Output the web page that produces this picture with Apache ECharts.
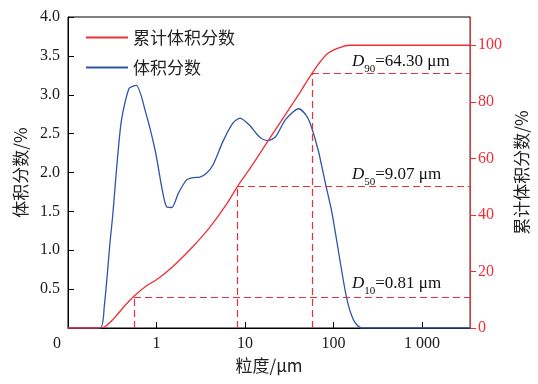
<!DOCTYPE html>
<html><head><meta charset="utf-8">
<script src="https://cdn.jsdelivr.net/npm/echarts@6/dist/echarts.min.js"></script>
<style>html,body{margin:0;padding:0;background:#fff}#c{width:538px;height:384px}</style>
</head><body><div id="c"></div>
<script>
// particle size (μm) and volume fraction (%) — blue curve, left axis
const blueX = [0.1, 0.23, 0.257, 0.300, 0.318, 0.395, 0.489, 0.590, 0.752, 0.972, 1.152, 1.31, 1.49, 1.77, 2.19, 2.60, 3.09, 3.67, 4.36, 5.64, 7.29, 8.79, 11.2, 14.5, 17.9, 22.2, 28.7, 40.5, 50.2, 57.0, 67.8, 80.4, 95.5, 106, 140, 168, 207, 3500];
const blueY = [0, 0, 0.28, 1.13, 1.41, 2.61, 3.08, 3.12, 2.78, 2.27, 1.80, 1.555, 1.55, 1.735, 1.905, 1.935, 1.94, 1.99, 2.10, 2.40, 2.635, 2.70, 2.61, 2.46, 2.41, 2.46, 2.68, 2.82, 2.72, 2.57, 2.27, 1.88, 1.50, 1.20, 0.40, 0.107, 0, 0];
// cumulative volume fraction (%) — red curve, right axis
const redX = [0.1, 0.199, 0.257, 0.333, 0.431, 0.556, 0.752, 0.972, 1.20, 1.69, 2.60, 4.00, 6.14, 8.28, 11.2, 18.7, 40.5, 57.0, 83.9, 118, 153, 3500];
const redY = [0, 0, 0.35, 3.5, 7.6, 11.2, 14.7, 16.8, 18.9, 23.0, 28.9, 35.6, 43.6, 50.2, 56.1, 66.7, 82.6, 90.0, 96.8, 99.2, 100, 100];
// characteristic sizes (as drawn) and cumulative levels
const dX = [0.556, 8.14, 57.0];
const dY = [11, 50, 90];
const dSub = ['10', '50', '90'];
const dVal = ['0.81', '9.07', '64.30'];
const xTickLabels = {0.1: '0', 1: '1', 10: '10', 100: '100', 1000: '1 000'};
const leftTicks = [0.5, 1.0, 1.5, 2.0, 2.5, 3.0, 3.5, 4.0];
const rightTicks = [0, 20, 40, 60, 80, 100];
const seriesNames = ['累计体积分数', '体积分数'];

const RED = '#ee2f37', BLUE = '#2d55a8';
const SERIF = '"Liberation Serif","Times New Roman",serif';
const CJK = '"Noto Sans CJK SC","Noto Sans",sans-serif';
const XMAX = 3500;

const chart = echarts.init(document.getElementById('c'), null, {renderer: 'canvas'});

const markData = dX.map((x, i) => [
  [{coord: [x, 0]}, {coord: [x, dY[i]]}],
  [{coord: [x, dY[i]]}, {coord: [XMAX, dY[i]]}]
]).flat();

const textTops = [275, 166, 53];
const graphics = dX.map((x, i) => ({
  type: 'text', left: 352, top: textTops[i], z: 100,
  style: {
    text: '{d|D}{s|' + dSub[i] + '}{t|=' + dVal[i] + ' μm}',
    rich: {
      d: {fontFamily: SERIF, fontStyle: 'italic', fontSize: 17, fill: '#111', verticalAlign: 'middle', lineHeight: 20},
      s: {fontFamily: SERIF, fontSize: 11, fill: '#111', verticalAlign: 'bottom', lineHeight: 27},
      t: {fontFamily: SERIF, fontSize: 17, fill: '#111', verticalAlign: 'middle', lineHeight: 20}
    }
  }
}));

chart.setOption({
  animation: false,
  backgroundColor: '#fff',
  grid: {left: 68, right: 62, top: 17, bottom: 56, show: true, borderColor: '#000', borderWidth: 1, backgroundColor: 'transparent'},
  legend: {
    orient: 'vertical', left: 80, top: 24, itemWidth: 42, itemHeight: 14, itemGap: 13,
    data: seriesNames,
    itemStyle: {opacity: 0},
    textStyle: {fontFamily: CJK, fontSize: 17, color: '#222'}
  },
  xAxis: {
    type: 'log', logBase: 10, min: 0.1, max: XMAX,
    name: '粒度/μm', nameLocation: 'middle', nameGap: 29,
    nameTextStyle: {fontFamily: CJK, fontSize: 17, color: '#222'},
    axisLine: {lineStyle: {color: '#000', width: 1}},
    axisTick: {inside: true, length: 6, lineStyle: {color: '#000'}},
    minorTick: {show: false},
    splitLine: {show: false},
    axisLabel: {
      margin: 8, fontFamily: SERIF, fontSize: 16, color: '#1a1a1a', showMaxLabel: false,
      formatter: v => {
        const k = Math.round(Math.log10(v) * 1000) / 1000;
        if (Math.abs(k - Math.round(k)) > 1e-3) return '';
        const key = Math.pow(10, Math.round(k));
        const s = xTickLabels[key] ?? xTickLabels[String(Number(key.toPrecision(3)))];
        if (s === '0') return '{z|0}';
        return s || '';
      },
      rich: {z: {fontFamily: SERIF, fontSize: 16, color: '#1a1a1a', padding: [0, 22, 0, 0]}}
    }
  },
  yAxis: [{
    type: 'value', min: 0, max: 4, interval: 0.5,
    name: '体积分数/%', nameLocation: 'middle', nameGap: 33,
    nameTextStyle: {fontFamily: CJK, fontSize: 17, color: '#222'},
    axisLine: {show: true, lineStyle: {color: '#000', width: 1}},
    axisTick: {show: true, inside: true, length: 6, lineStyle: {color: '#000'}},
    splitLine: {show: false},
    axisLabel: {margin: 8, fontFamily: SERIF, fontSize: 16, color: '#1a1a1a',
      formatter: v => leftTicks.some(t => Math.abs(t - v) < 1e-6) ? v.toFixed(1) : ''}
  }, {
    type: 'value', position: 'right', min: 0, max: 110, interval: 20,
    name: '累计体积分数/%', nameLocation: 'middle', nameGap: 38, nameRotate: 90,
    nameTextStyle: {fontFamily: CJK, fontSize: 17, color: '#222'},
    axisLine: {show: true, lineStyle: {color: RED, width: 1}},
    axisTick: {show: true, inside: false, length: 6, lineStyle: {color: RED}, customValues: rightTicks},
    splitLine: {show: false},
    axisLabel: {margin: 8, fontFamily: SERIF, fontSize: 16, color: RED, customValues: rightTicks,
      formatter: v => rightTicks.includes(v) ? String(v) : ''}
  }],
  series: [{
    name: seriesNames[0], type: 'line', yAxisIndex: 1, symbol: 'none', showSymbol: false, smooth: 0.3, z: 3,
    data: redX.map((x, i) => [x, redY[i]]),
    lineStyle: {color: RED, width: 1.3}, itemStyle: {color: RED},
    markLine: {
      silent: true, symbol: 'none', animation: false,
      lineStyle: {color: RED, type: [7, 4], width: 1.2},
      label: {show: false},
      data: markData
    }
  }, {
    name: seriesNames[1], type: 'line', yAxisIndex: 0, symbol: 'none', showSymbol: false, smooth: 0.25, z: 2,
    data: blueX.map((x, i) => [x, blueY[i]]),
    lineStyle: {color: BLUE, width: 1.3}, itemStyle: {color: BLUE}
  }],
  graphic: graphics
});
</script></body></html>
